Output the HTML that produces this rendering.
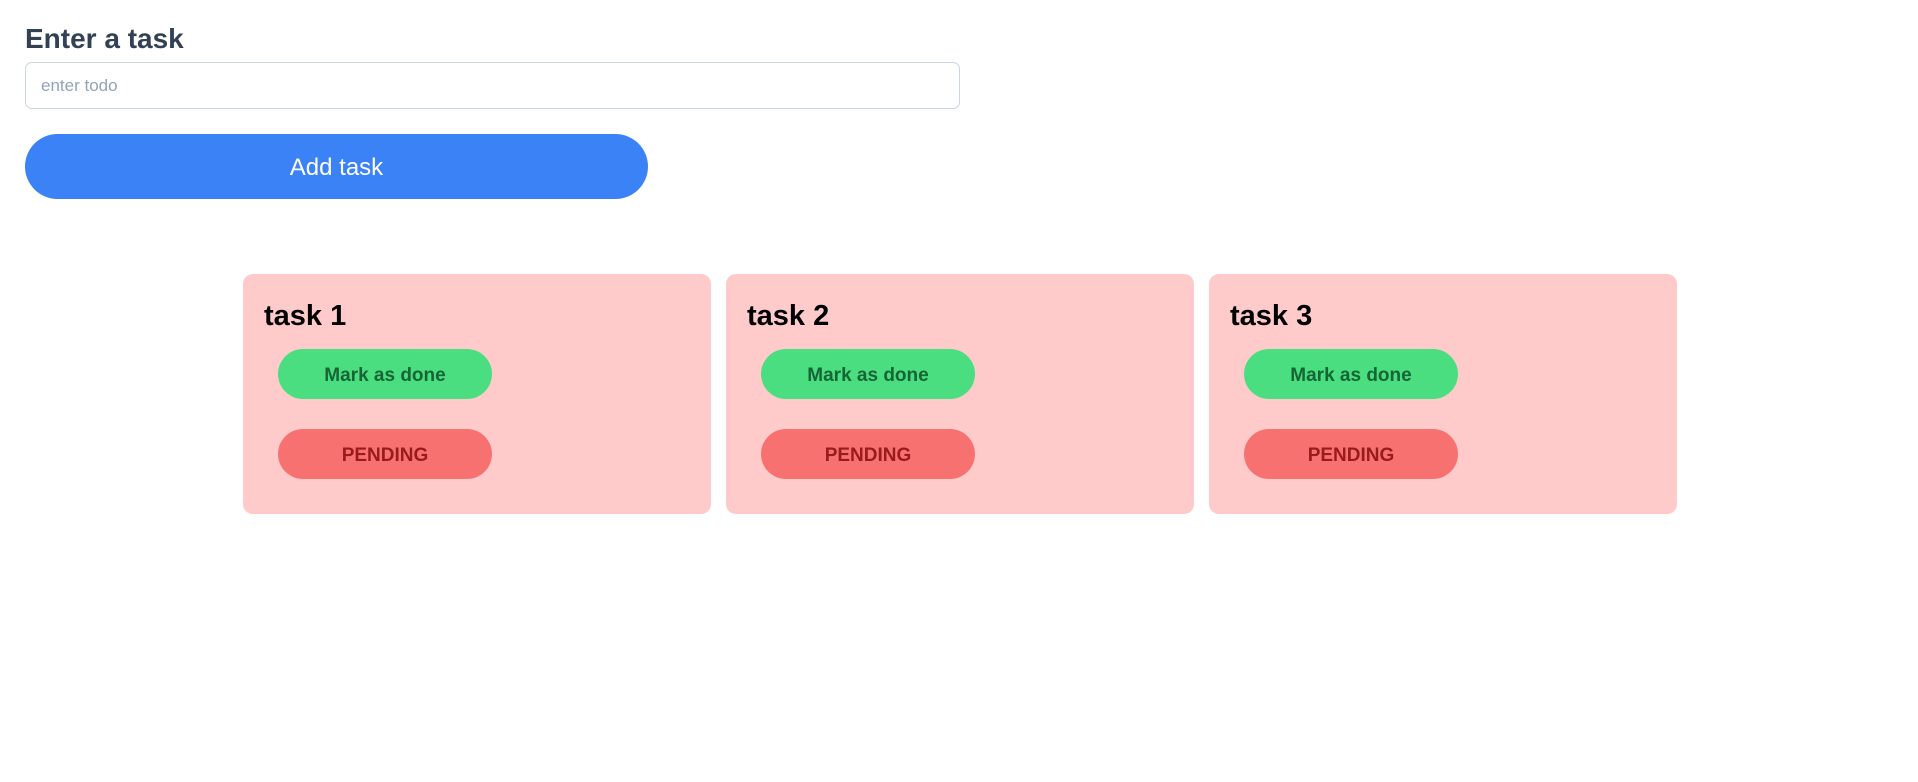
<!DOCTYPE html>
<html><head><style>
body{margin:0;width:1918px;height:782px;background:#fff;font-family:"Liberation Sans",sans-serif;position:relative;overflow:hidden}
.a{position:absolute}
h1{position:absolute;left:25px;top:23px;margin:0;font-size:28px;font-weight:600;color:#334155}
.inp{left:25px;top:62px;width:918px;height:45px;border:1px solid #cbd5e1;border-radius:7px;color:#94a3b8;font-size:17px;line-height:45px;padding-left:15px;box-sizing:content-box}
.btn{left:25px;top:134px;width:623px;height:65px;border-radius:33px;background:#3b82f6;color:#fff;font-size:24px;line-height:67px;text-align:center}
.card{top:274px;width:468px;height:240px;background:#fecaca;border-radius:10px}
.card h2{position:absolute;left:21px;top:26px;margin:0;font-size:29px;font-weight:bold;color:#000}
.p{position:absolute;left:35px;width:214px;height:50px;border-radius:25px;text-align:center;line-height:54px;font-size:19px;font-weight:bold}
.g{top:75px;background:#4ade80;color:#166534}
.r{top:155px;background:#f87171;color:#991b1b}
</style></head><body>
<h1>Enter a task</h1>
<div class="a inp">enter todo</div>
<div class="a btn">Add task</div>
<div class="a card" style="left:243px"><h2>task 1</h2><div class="p g">Mark as done</div><div class="p r">PENDING</div></div>
<div class="a card" style="left:726px"><h2>task 2</h2><div class="p g">Mark as done</div><div class="p r">PENDING</div></div>
<div class="a card" style="left:1209px"><h2>task 3</h2><div class="p g">Mark as done</div><div class="p r">PENDING</div></div>
</body></html>
